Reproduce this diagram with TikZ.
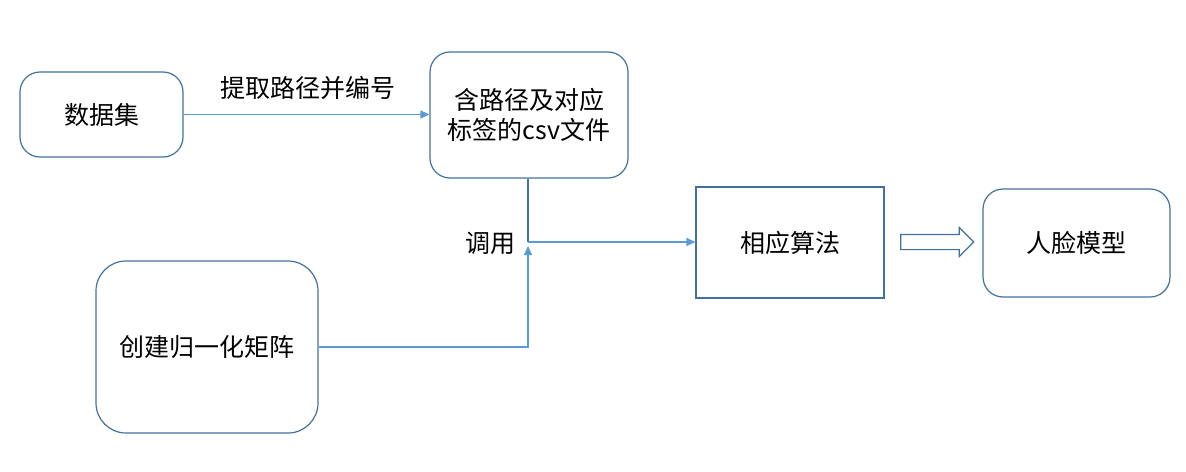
\documentclass[tikz,border=0pt]{standalone}
\usepackage{fontspec}
\setmainfont{Noto Sans CJK SC}
\usetikzlibrary{arrows.meta,shapes.arrows}
\definecolor{edgeblue}{HTML}{41719C}
\definecolor{linkblue}{HTML}{5B9BD5}

\begin{document}
\begin{tikzpicture}[x=0.5pt,y=-0.5pt,>={Triangle[length=4.5pt,width=4pt]},
    box/.style={draw=edgeblue,line width=0.6pt,align=center,font=\fontsize{12.5}{15}\selectfont},
    rbox/.style={box,rounded corners=10pt},
    link/.style={->,draw=linkblue,line width=0.6pt},
    lbl/.style={font=\fontsize{12.5}{15}\selectfont}]
            \useasboundingbox (0,0) rectangle (1186,471);
            \node[rbox, minimum width=81.5pt, minimum height=42.5pt] (data) at (101.5,114.5) {数据集};
            \node[rbox, minimum width=99pt, minimum height=63pt] (csv) at (529,115) {含路径及对应\\标签的csv文件};
            \node[box, minimum width=94pt, minimum height=55.5pt] (algo) at (790,242.5) {相应算法};
            \node[rbox, minimum width=93.5pt, minimum height=54pt] (model) at (1076.5,243) {人脸模型};
            \node[rbox, rounded corners=15pt, minimum width=111pt, minimum height=86pt] (matrix) at (207,347) {创建归一化矩阵};
            \node[single arrow, draw=edgeblue, line width=0.6pt, inner sep=3.5pt, minimum height=36.5pt,
                  single arrow head extend=3.5pt, single arrow tip angle=90] (to) at (933.5,242) {};

            \node[lbl] (extract) at (308,88) {提取路径并编号};
            \node[lbl] (call) at (490,243) {调用};

            \coordinate (join) at (528,242);
            \coordinate (joinb) at (528,246);

            \draw[link] (data.east) -- (data.east -| csv.west);
            \draw[link,-,draw=edgeblue] (csv.south -| join) -- (join);
            \draw[link] (join) -- (join -| algo.west);
            \draw[link] (matrix.east) -| (joinb);
        \end{tikzpicture}
\end{document}
